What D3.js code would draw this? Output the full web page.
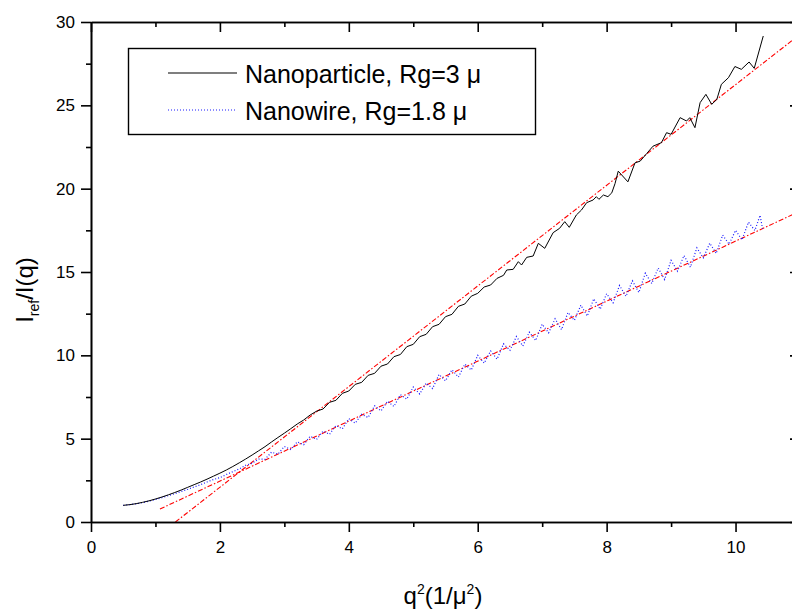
<!DOCTYPE html>
<html><head><meta charset="utf-8">
<script src="https://cdn.jsdelivr.net/npm/d3@7"></script>
<style>
html,body{margin:0;padding:0;background:#fff;}
svg{display:block;font-family:"Liberation Sans",Arial,sans-serif;}
</style></head>
<body><svg id="c" width="792" height="611"></svg>
<script>
// ---- data ----
const particleX = [0.50,0.60,0.70,0.80,0.90,1.00,1.10,1.20,1.30,1.40,1.50,1.60,1.70,1.80,1.90,2.00,2.10,2.20,2.30,2.40,2.50,2.60,2.70,2.80,2.90,3.00,3.10,3.20,3.30,3.40,3.50,3.60,3.70,3.80,3.90,4.00,4.10,4.20,4.30,4.40,4.50,4.60,4.70,4.80,4.90,5.00,5.10,5.20,5.30,5.40,5.50,5.60,5.70,5.80,5.90,6.00,6.10,6.20,6.30,6.40,6.45,6.55,6.63,6.68,6.76,6.86,6.94,7.04,7.17,7.27,7.35,7.42,7.53,7.61,7.69,7.79,7.84,7.88,7.95,8.02,8.08,8.13,8.18,8.33,8.44,8.52,8.62,8.72,8.85,8.93,9.00,9.14,9.24,9.29,9.37,9.45,9.54,9.63,9.71,9.78,9.89,9.99,10.09,10.21,10.29,10.43];
const particleY = [1.00,1.04,1.10,1.18,1.27,1.38,1.50,1.63,1.77,1.92,2.08,2.24,2.40,2.57,2.75,2.93,3.12,3.33,3.55,3.78,4.02,4.27,4.52,4.80,5.07,5.33,5.60,5.88,6.12,6.42,6.65,6.78,7.18,7.30,7.72,7.86,8.26,8.38,8.80,8.92,9.35,9.48,9.92,10.05,10.52,10.66,11.12,11.26,11.72,11.86,12.32,12.46,12.94,13.08,13.55,13.72,14.10,14.22,14.62,14.80,15.12,15.16,15.62,15.42,15.88,15.96,16.72,16.42,17.36,17.62,18.02,17.68,18.42,18.72,19.16,19.32,19.52,19.36,19.62,19.52,19.75,20.30,21.05,20.41,21.55,21.65,22.10,22.55,22.76,23.36,23.26,24.26,24.06,24.26,23.66,25.16,25.66,25.06,25.36,26.26,26.66,27.33,27.16,27.60,27.22,29.16];

const wireX = [0.50,0.60,0.70,0.80,0.90,1.00,1.10,1.20,1.30,1.40,1.50,1.60,1.70,1.80,1.90,2.00,2.10,2.20,2.30,2.40,2.50,2.60,2.70,2.80,2.90,3.00,3.10,3.20,3.30,3.40,3.50,3.60,3.70,3.80,3.90,4.00,4.10,4.20,4.30,4.40,4.50,4.60,4.70,4.80,4.90,5.00,5.10,5.20,5.30,5.40,5.50,5.60,5.70,5.80,5.90,6.00,6.10,6.20,6.30,6.40,6.50,6.60,6.70,6.80,6.90,7.00,7.10,7.20,7.30,7.40,7.50,7.60,7.70,7.80,7.90,8.00,8.10,8.20,8.30,8.40,8.50,8.60,8.70,8.80,8.90,9.00,9.10,9.20,9.30,9.40,9.50,9.60,9.70,9.80,9.90,10.00,10.10,10.20,10.30,10.38,10.42];
const wireY = [1.00,1.04,1.09,1.16,1.25,1.35,1.46,1.58,1.70,1.83,1.96,2.10,2.24,2.40,2.55,2.66,2.85,3.02,3.18,3.40,3.52,3.78,3.76,4.19,4.07,4.53,4.35,4.81,4.64,5.15,4.95,5.45,5.26,5.79,5.59,6.20,5.93,6.46,6.27,6.97,6.67,7.25,6.93,7.64,7.37,8.10,7.68,8.33,8.01,8.85,8.47,9.13,8.69,9.47,9.12,10.00,9.53,10.26,9.77,10.69,10.30,11.13,10.56,11.39,10.89,11.87,11.35,12.19,11.54,12.57,12.10,13.01,12.36,13.39,12.77,13.70,13.15,14.19,13.54,14.47,13.77,14.93,14.31,15.24,14.55,15.70,15.05,15.99,15.29,16.45,15.85,16.73,16.11,17.21,16.67,17.50,16.93,17.99,17.49,18.40,17.60];

// linear fits (start point and end point)
const fitParticleX = [1.31, 11.0];
const fitParticleY = [0.0, 29.26];
const fitWireX = [1.07, 11.0];
const fitWireY = [0.78, 18.65];

const xMajor = [0,2,4,6,8,10];
const xMinor = [1,3,5,7,9,11];
const yMajor = [0,5,10,15,20,25,30];
const yMinor = [2.5,7.5,12.5,17.5,22.5,27.5];

const legendLabels = ["Nanoparticle, Rg=3 \u03bc", "Nanowire, Rg=1.8 \u03bc"];

// ---- layout ----
const L = 91, R = 800, T = 22, B = 522;
const svg = d3.select("#c");
const x = d3.scaleLinear().domain([0, 11]).range([L, R]);
const y = d3.scaleLinear().domain([0, 30]).range([B, T]);

svg.append("defs").append("clipPath").attr("id","clip")
  .append("rect").attr("x",L).attr("y",T).attr("width",R-L).attr("height",B-T);

const line = d3.line().x(d=>x(d[0])).y(d=>y(d[1]));
const zip = (a,b)=>a.map((v,i)=>[v,b[i]]);

const plot = svg.append("g").attr("clip-path","url(#clip)");
plot.append("path").datum(zip(fitParticleX, fitParticleY)).attr("d", line)
  .attr("fill","none").attr("stroke","#ff0000").attr("stroke-width",1.1).attr("stroke-dasharray","5,2,1.5,2");
plot.append("path").datum(zip(fitWireX, fitWireY)).attr("d", line)
  .attr("fill","none").attr("stroke","#ff0000").attr("stroke-width",1.1).attr("stroke-dasharray","5,2,1.5,2");
plot.append("path").datum(zip(wireX, wireY)).attr("d", line)
  .attr("fill","none").attr("stroke","#1a1aff").attr("stroke-width",1.2).attr("stroke-dasharray","1,2");
plot.append("path").datum(zip(particleX, particleY)).attr("d", line)
  .attr("fill","none").attr("stroke","#000").attr("stroke-width",1);

// ---- axes ----
function style(g){
  g.select(".domain").attr("stroke","#000").attr("stroke-width",1.6);
  g.selectAll(".tick line").attr("stroke","#000").attr("stroke-width",1.6);
  g.selectAll(".tick text").attr("fill","#000").style("font-size","17px")
    .style("font-family",'"Liberation Sans",Arial,sans-serif');
}
svg.append("g").attr("transform",`translate(0,${B})`)
  .call(d3.axisBottom(x).tickValues(xMinor).tickSize(5).tickFormat("").tickSizeOuter(0)).call(style);
svg.append("g").attr("transform",`translate(0,${B})`)
  .call(d3.axisBottom(x).tickValues(xMajor).tickSize(10).tickPadding(9).tickSizeOuter(0).tickFormat(d3.format("d"))).call(style);
svg.append("g").attr("transform",`translate(0,${T})`)
  .call(d3.axisTop(x).tickValues(xMinor).tickSize(-5).tickFormat("").tickSizeOuter(0)).call(style);
svg.append("g").attr("transform",`translate(0,${T})`)
  .call(d3.axisTop(x).tickValues(xMajor).tickSize(-10).tickFormat("").tickSizeOuter(0)).call(style);
svg.append("g").attr("transform",`translate(${L},0)`)
  .call(d3.axisLeft(y).tickValues(yMinor).tickSize(5).tickFormat("").tickSizeOuter(0)).call(style);
svg.append("g").attr("transform",`translate(${L},0)`)
  .call(d3.axisLeft(y).tickValues(yMajor).tickSize(10).tickPadding(6).tickSizeOuter(0).tickFormat(d3.format("d"))).call(style);
svg.append("g").attr("transform",`translate(${R},0)`)
  .call(d3.axisRight(y).tickValues(yMinor).tickSize(-5).tickFormat("").tickSizeOuter(0)).call(style);
svg.append("g").attr("transform",`translate(${R},0)`)
  .call(d3.axisRight(y).tickValues(yMajor).tickSize(-10).tickFormat("").tickSizeOuter(0)).call(style);

// ---- axis titles ----
const xt = svg.append("text").attr("x", 443).attr("y", 604).attr("text-anchor","middle")
  .style("font-size","24px").attr("fill","#000");
xt.append("tspan").text("q");
xt.append("tspan").attr("dy",-10).style("font-size","14px").text("2");
xt.append("tspan").attr("dy",10).text("(1/\u03bc");
xt.append("tspan").attr("dy",-10).style("font-size","14px").text("2");
xt.append("tspan").attr("dy",10).text(")");

const yt = svg.append("text").attr("transform","translate(33,290) rotate(-90)")
  .attr("text-anchor","middle").style("font-size","24px").attr("fill","#000");
yt.append("tspan").text("I");
yt.append("tspan").attr("dy",6).style("font-size","14px").text("ref");
yt.append("tspan").attr("dy",-6).text("/I(q)");

// ---- legend ----
const lg = svg.append("g");
lg.append("rect").attr("x",128.5).attr("y",48.5).attr("width",407).attr("height",86)
  .attr("fill","#fff").attr("stroke","#000").attr("stroke-width",1.4);
const lgY = [73, 110];
const lgStroke = ["#000","#1a1aff"];
const lgDash = [null,"1,2"];
legendLabels.forEach((t,i)=>{
  lg.append("line").attr("x1",168).attr("x2",237).attr("y1",lgY[i]).attr("y2",lgY[i])
    .attr("stroke",lgStroke[i]).attr("stroke-width",1.1).attr("stroke-dasharray",lgDash[i]);
  lg.append("text").attr("x",245).attr("y",lgY[i]+10).style("font-size","25px").attr("fill","#000").text(t);
});
</script></body></html>
